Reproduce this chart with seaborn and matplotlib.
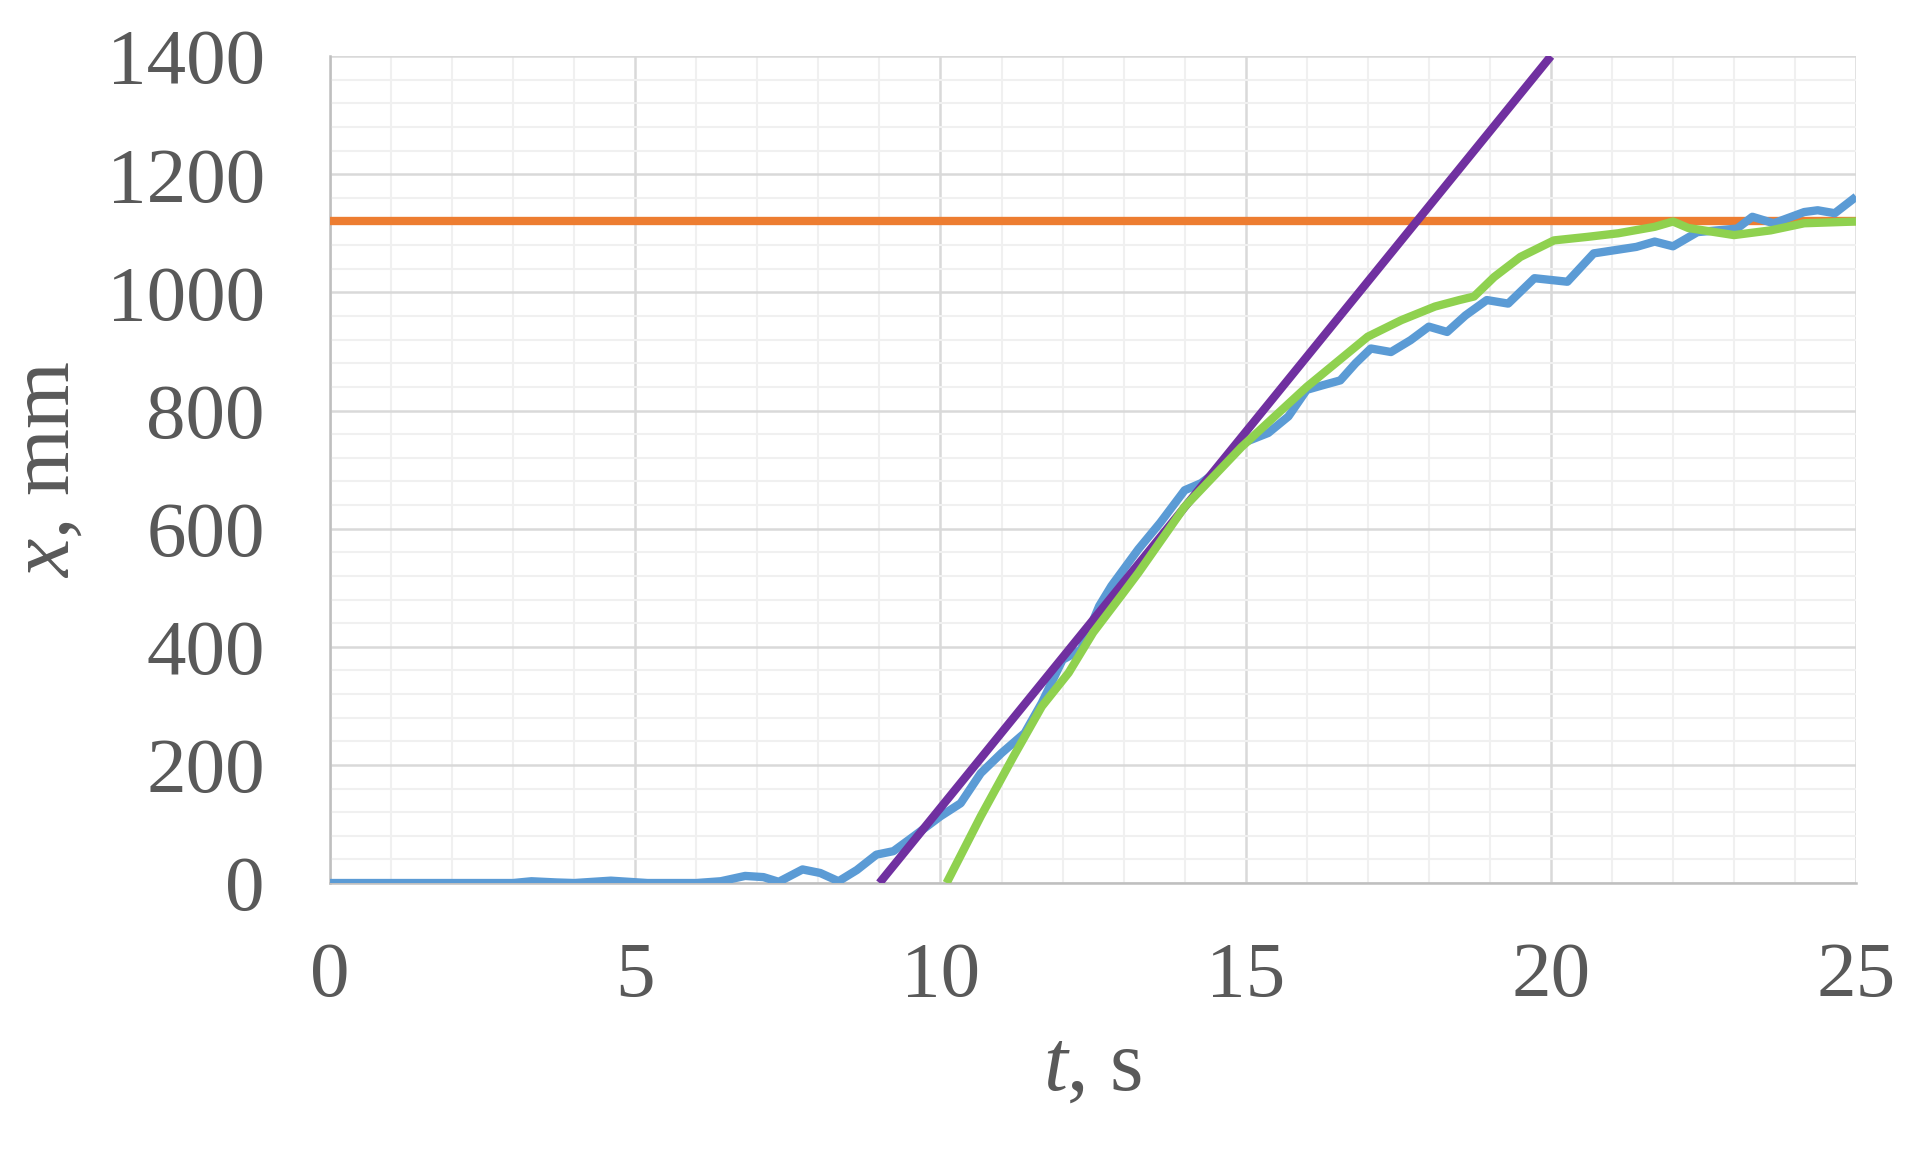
import matplotlib
matplotlib.use("Agg")
import matplotlib.pyplot as plt
from matplotlib.ticker import MultipleLocator
import seaborn as sns
import pandas as pd

# ---- data ----
t_meas = [0, 1, 2, 3, 3.3, 3.7, 4.0, 4.3, 4.6, 4.9, 5.2, 6.0, 6.4, 6.8, 7.1, 7.35,
          7.74, 8.03, 8.33, 8.63, 8.95, 9.23, 9.56, 10.0, 10.33, 10.66, 11.0, 11.38,
          11.66, 12.0, 12.3, 12.6, 12.8, 13.24, 13.6, 14.0, 14.27, 14.55, 14.93, 15.37,
          15.7, 16.0, 16.27, 16.55, 16.8, 17.05, 17.38, 17.7, 18.0, 18.3, 18.6, 18.95,
          19.3, 19.73, 20.27, 20.7, 21.4, 21.7, 22.0, 22.4, 23.05, 23.3, 23.65, 24.15,
          24.37, 24.65, 25.0]
x_meas = [0, 0, 0, 0, 3, 1, 0, 2, 4, 2, 0, 0, 3, 12, 10, 2,
          23, 17, 3, 22, 48, 54, 79, 113, 135, 186, 220, 254,
          305, 378, 395, 469, 503, 565, 610, 665, 677, 699, 744, 762,
          790, 835, 843, 851, 880, 905, 899, 919, 942, 933, 961, 987,
          981, 1024, 1018, 1066, 1077, 1086, 1078, 1102, 1108, 1128, 1117, 1136,
          1139, 1134, 1162]

t_model = [10.1, 10.66, 11.2, 11.66, 12.1, 12.5, 13.0, 13.24, 14.0, 14.93, 16.0,
           17.0, 17.55, 18.1, 18.5, 18.74, 19.07, 19.5, 20.05, 20.6, 21.1, 21.7,
           22.0, 22.25, 23.0, 23.6, 24.15, 25.0]
x_model = [0, 113, 215, 299, 356, 424, 492, 525, 637, 738, 840,
           925, 953, 976, 987, 993, 1026, 1060, 1088, 1094, 1100, 1111,
           1120, 1109, 1097, 1105, 1117, 1120]

t_level = [0, 25]
x_level = [1120, 1120]

t_tangent = [9.0, 20.0]
x_tangent = [0, 1400]

x_ticks = [0, 5, 10, 15, 20, 25]
y_ticks = [0, 200, 400, 600, 800, 1000, 1200, 1400]

# ---- style ----
sns.set_style("white")
plt.rcParams['font.family'] = ['Liberation Serif', 'DejaVu Serif']
plt.rcParams['mathtext.fontset'] = 'custom'
plt.rcParams['mathtext.it'] = 'Liberation Serif:italic'
plt.rcParams['mathtext.rm'] = 'Liberation Serif'

text_col = '#595959'
fs = 57
fs_lab = 62

fig = plt.figure(figsize=(19.10, 11.57), dpi=100)
ax = fig.add_axes([0.1728, 0.2368, 0.7990, 0.7147])

lw = 6.0
kw = dict(lw=lw, solid_capstyle='butt', solid_joinstyle='round')
df_level = pd.DataFrame({'t': t_level, 'x': x_level})
df_tangent = pd.DataFrame({'t': t_tangent, 'x': x_tangent})
df_meas = pd.DataFrame({'t': t_meas, 'x': x_meas})
df_model = pd.DataFrame({'t': t_model, 'x': x_model})

sns.lineplot(data=df_level, x='t', y='x', ax=ax, color='#ed7d31', zorder=3, **kw)
sns.lineplot(data=df_meas, x='t', y='x', ax=ax, color='#5b9bd5', zorder=4, **kw)
sns.lineplot(data=df_tangent, x='t', y='x', ax=ax, color='#7030a0', zorder=5, **kw)
sns.lineplot(data=df_model, x='t', y='x', ax=ax, color='#8fd14f', zorder=6, **kw)

ax.set_xlim(0, 25)
ax.set_ylim(0, 1400)
ax.set_xticks(x_ticks)
ax.set_yticks(y_ticks)
ax.xaxis.set_minor_locator(MultipleLocator(1))
ax.yaxis.set_minor_locator(MultipleLocator(40))

ax.set_axisbelow(True)
ax.grid(which='minor', color='#f0f0f0', lw=1.5, zorder=0)
ax.grid(which='major', color='#d9d9d9', lw=1.8, zorder=1)

for s in ['top', 'right']:
    ax.spines[s].set_visible(False)
for s in ['left', 'bottom']:
    ax.spines[s].set_color('#bfbfbf')
    ax.spines[s].set_linewidth(1.8)
    ax.spines[s].set_zorder(2)

ax.tick_params(which='both', length=0)
ax.tick_params(axis='y', labelsize=fs, labelcolor=text_col, pad=47)
ax.tick_params(axis='x', labelsize=fs, labelcolor=text_col, pad=42)

ax.set_xlabel('$t$, s', fontsize=fs_lab, color=text_col)
ax.set_ylabel('$x$, mm', fontsize=fs_lab, color=text_col)
ax.xaxis.set_label_coords(0.5, -0.225)
ax.xaxis.label.set_va('center')
ax.yaxis.set_label_coords(-0.185, 0.5)
ax.yaxis.label.set_va('center')

fig.savefig('out.png', dpi=100, facecolor='white')
